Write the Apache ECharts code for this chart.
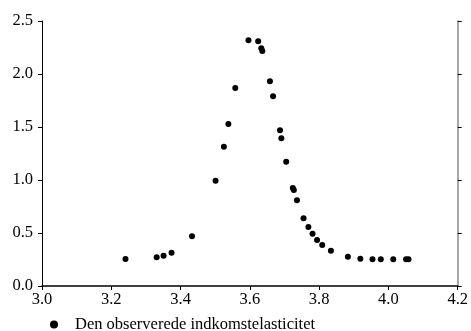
<!DOCTYPE html>
<html><head><meta charset="utf-8">
<script src="https://cdn.jsdelivr.net/npm/echarts@6/dist/echarts.min.js"></script>
<style>html,body{margin:0;padding:0;background:#fff}#c{width:471px;height:331px}</style>
</head><body><div id="c"></div>
<script>
const seriesName = 'Den observerede indkomstelasticitet';
const xValues = [3.241,3.331,3.351,3.374,3.433,3.501,3.525,3.538,3.558,3.596,3.624,3.633,3.636,3.658,3.667,3.687,3.691,3.705,3.724,3.727,3.736,3.755,3.769,3.781,3.794,3.809,3.834,3.883,3.919,3.954,3.978,4.014,4.051,4.058];
const yValues = [0.255,0.271,0.286,0.314,0.469,0.994,1.314,1.528,1.868,2.318,2.309,2.243,2.217,1.931,1.789,1.469,1.393,1.173,0.925,0.906,0.808,0.638,0.557,0.493,0.434,0.387,0.333,0.277,0.258,0.252,0.252,0.252,0.252,0.252];
const xTicks = [3.0,3.2,3.4,3.6,3.8,4.0,4.2];
const yTicks = [0.0,0.5,1.0,1.5,2.0,2.5];

const font = '"Liberation Serif","Times New Roman",serif';
const chart = echarts.init(document.getElementById('c'));
chart.setOption({
  animation: false,
  grid: {left: 42, right: 9, top: 21, bottom: 45},
  legend: {
    data: [{name: seriesName, icon: 'circle'}],
    left: 50, top: 316, itemWidth: 8, itemHeight: 8, padding: 0,
    textStyle: {fontFamily: font, fontSize: 16.5, color: '#000', padding: [0, 0, 0, 12]}
  },
  xAxis: {
    type: 'value', min: 3.0, max: 4.2, interval: 0.2,
    axisLine: {show: true, onZero: false, lineStyle: {color: '#000', width: 1.5}},
    axisTick: {show: true, length: 4, lineStyle: {color: '#000'}},
    splitLine: {show: false},
    axisLabel: {margin: 5, fontFamily: font, fontSize: 16.5, color: '#000',
      formatter: v => v.toFixed(1)}
  },
  yAxis: [{
    type: 'value', min: 0, max: 2.5, interval: 0.5,
    axisLine: {show: true, lineStyle: {color: '#000', width: 1}},
    axisTick: {show: true, length: 4, lineStyle: {color: '#000'}},
    splitLine: {show: false},
    axisLabel: {margin: 9, fontFamily: font, fontSize: 16.5, color: '#000',
      formatter: v => v.toFixed(1)}
  }, {
    type: 'value', min: 0, max: 2.5, interval: 0.5, position: 'right',
    axisLine: {show: true, lineStyle: {color: '#888', width: 1.5}},
    axisTick: {show: true, length: 4, lineStyle: {color: '#000'}},
    splitLine: {show: false},
    axisLabel: {show: false}
  }],
  series: [{
    name: seriesName, type: 'scatter', symbol: 'circle', symbolSize: 6,
    itemStyle: {color: '#000', opacity: 1},
    data: xValues.map((x, i) => [x, yValues[i]])
  }]
});
</script></body></html>
